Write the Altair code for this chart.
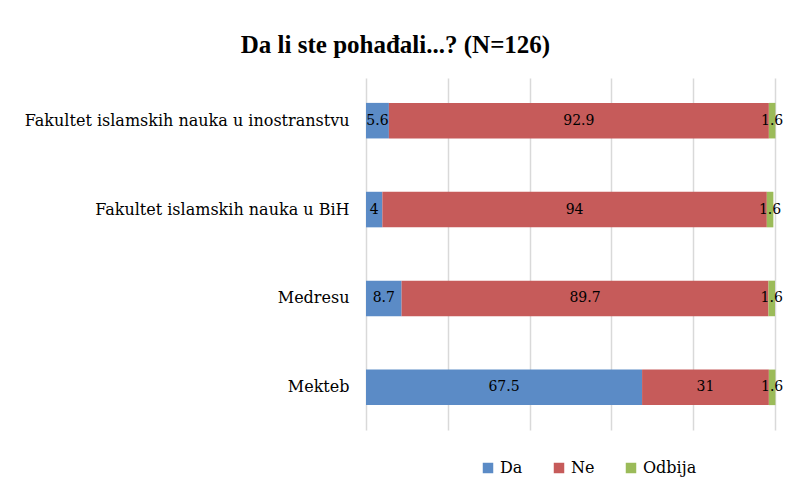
import altair as alt
import pandas as pd

categories = ["Fakultet islamskih nauka u inostranstvu", "Fakultet islamskih nauka u BiH", "Medresu", "Mekteb"]
series = ["Da", "Ne", "Odbija"]
da = [5.6, 4, 8.7, 67.5]
ne = [92.9, 94, 89.7, 31]
odbija = [1.6, 1.6, 1.6, 1.6]
colors = ["#5B8BC6", "#C65B5A", "#9BBB59"]

rows = []
for i, c in enumerate(categories):
    for j, (s, vals) in enumerate(zip(series, [da, ne, odbija])):
        rows.append({"cat": c, "series": s, "value": vals[i], "ord": j})
df = pd.DataFrame(rows)

FONT = "DejaVu Serif"
TFONT = "Liberation Serif"

base = alt.Chart(df).transform_stack(
    stack="value", groupby=["cat"], as_=["v0", "v1"], sort=[alt.SortField("ord", order="ascending")]
).transform_calculate(mid="(datum.v0 + datum.v1) / 2")

y = alt.Y("cat:N", sort=categories, title=None,
          scale=alt.Scale(paddingInner=0.6, paddingOuter=0.28),
          axis=alt.Axis(labelFont=FONT, labelFontSize=16, labelColor="#000000", ticks=False,
                        domain=False, labelPadding=17, labelLimit=400))

bars = base.mark_bar().encode(
    x=alt.X("v0:Q", scale=alt.Scale(domain=[0, 100]), title=None,
            axis=alt.Axis(values=[0, 20, 40, 60, 80, 100], labels=False, ticks=False, domain=False,
                          grid=True, gridColor="#D9D9D9", gridWidth=1.5)),
    x2="v1:Q",
    y=y,
    color=alt.Color("series:N", sort=series, scale=alt.Scale(domain=series, range=colors),
                    legend=alt.Legend(title=None, orient="none", direction="horizontal",
                                      legendX=114, legendY=382,
                                      symbolType="square", symbolSize=110, symbolStrokeWidth=0,
                                      labelFont=FONT, labelFontSize=16, labelColor="#000000",
                                      columnPadding=28, labelOffset=4)),
)

labels = base.mark_text(font=FONT, fontSize=14, color="#000000").encode(
    x="mid:Q",
    y=alt.Y("cat:N", sort=categories),
    text=alt.Text("value:Q"),
)

chart = (bars + labels).properties(
    width=409, height=352,
    title=alt.Title("Da li ste pohađali...? (N=126)", font=TFONT, fontSize=25, fontWeight="bold",
                    color="#000000", offset=20, anchor="middle", dx=-175),
    autosize=alt.AutoSizeParams(type="none"),
    padding={"left": 358, "top": 70, "right": 11, "bottom": 52},
).configure_view(stroke=None)

chart.save("out.html", embed_options={"renderer": "svg", "actions": False})
